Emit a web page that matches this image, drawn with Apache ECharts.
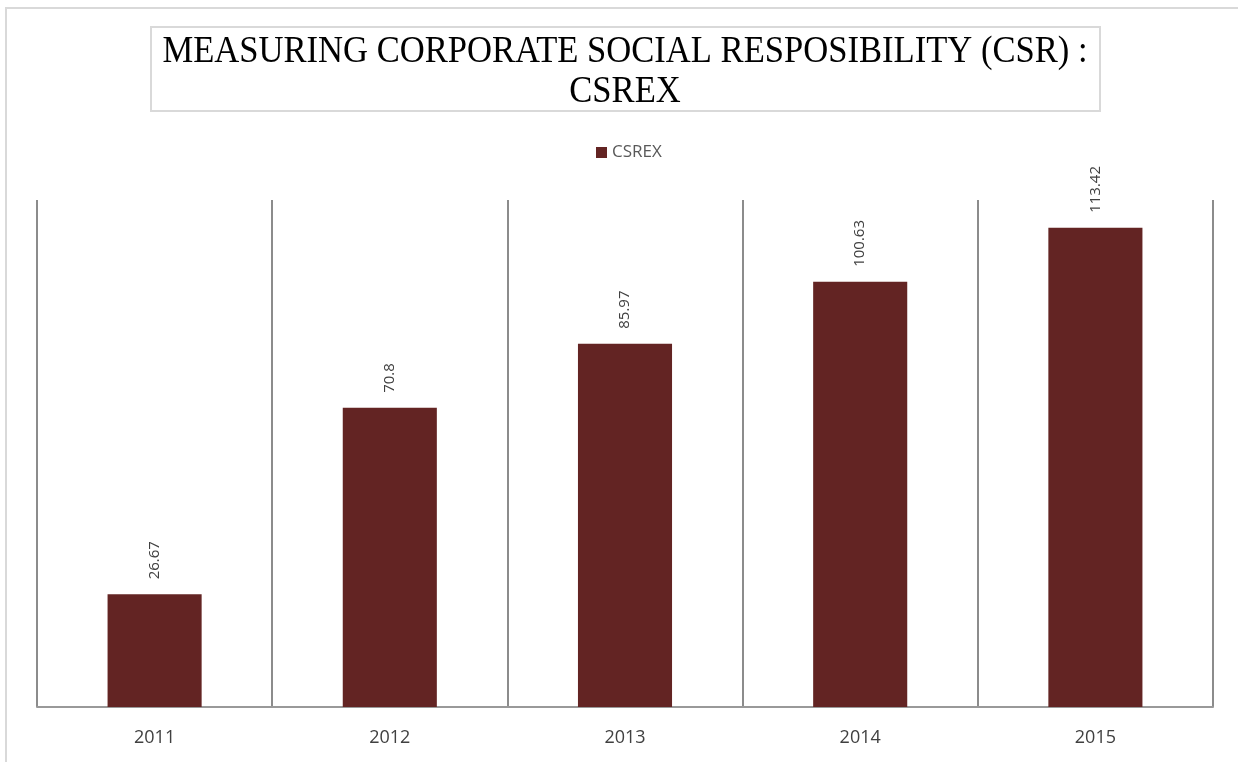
<!DOCTYPE html>
<html>
<head>
<meta charset="utf-8">
<script src="https://cdn.jsdelivr.net/npm/echarts@6/dist/echarts.min.js"></script>
<style>html,body{margin:0;padding:0;background:#fff}#c{width:1238px;height:762px}</style>
</head>
<body>
<div id="c"></div>
<script>
const categories = ['2011', '2012', '2013', '2014', '2015'];
const csrexValues = [26.67, 70.8, 85.97, 100.63, 113.42];
const seriesName = 'CSREX';
const titleLines = ['MEASURING CORPORATE SOCIAL RESPOSIBILITY (CSR) :', 'CSREX'];

const chart = echarts.init(document.getElementById('c'), null, {renderer: 'canvas'});
chart.setOption({
  backgroundColor: '#fff',
  animation: false,
  graphic: [
    {type: 'rect', shape: {x: 6, y: 8, width: 1300, height: 800}, style: {fill: 'none', stroke: '#d9d9d9', lineWidth: 2}, silent: true},
    {type: 'rect', shape: {x: 151, y: 27, width: 949, height: 84}, style: {fill: '#fff', stroke: '#d9d9d9', lineWidth: 2}, silent: true},
    {type: 'text', x: 625, y: 72, scaleX: 0.91, style: {text: titleLines.join('\n'), font: '38px "Liberation Serif"', fill: '#000', align: 'center', verticalAlign: 'middle', lineHeight: 40}, silent: true}
  ],
  legend: {
    data: [seriesName], top: 139, left: 591, itemWidth: 11, itemHeight: 11, itemGap: 5,
    icon: 'rect', textStyle: {fontFamily: '"Open Sans"', fontSize: 17, color: '#595959'}
  },
  grid: {left: 37, right: 25, top: 200, bottom: 55, containLabel: false},
  xAxis: {
    type: 'category', data: categories,
    axisLine: {lineStyle: {color: '#999', width: 2}},
    axisTick: {show: false},
    splitLine: {show: true, lineStyle: {color: '#8c8c8c', width: 2}},
    axisLabel: {fontFamily: '"Open Sans"', fontSize: 18, color: '#404040', margin: 22}
  },
  yAxis: {type: 'value', min: 0, max: 120, show: false, splitLine: {show: false}},
  series: [{
    name: seriesName, type: 'bar', data: csrexValues, barWidth: '40%',
    itemStyle: {color: '#632423'},
    label: {show: true, position: 'top', rotate: 90, align: 'left', verticalAlign: 'middle', distance: 15,
      fontFamily: '"Open Sans"', fontSize: 15, color: '#404040'}
  }]
});
</script>
</body>
</html>
